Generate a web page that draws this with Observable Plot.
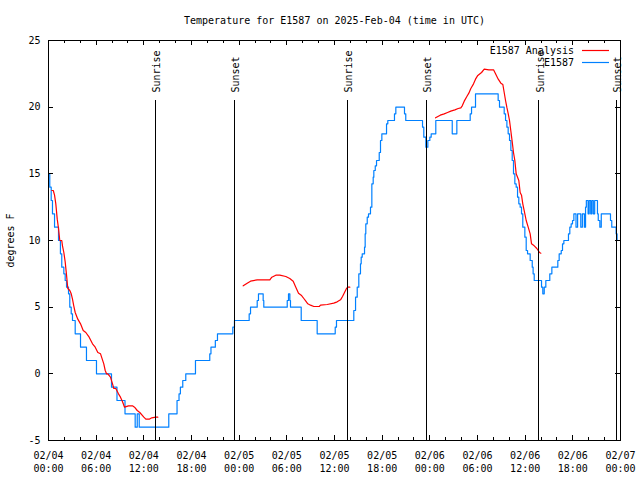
<!DOCTYPE html>
<html>
<head>
<meta charset="utf-8">
<script src="https://cdn.jsdelivr.net/npm/d3@7"></script>
<script src="https://cdn.jsdelivr.net/npm/@observablehq/plot@0.6"></script>
<style>
  body { margin: 0; background: white; }
</style>
</head>
<body>
<div id="chart"></div>
<script>
// ---- Data (hours since 2025-02-04 00:00 UTC, degrees F) ----
const obsHours = [0,0.16,0.34,0.5,0.76,1.26,1.5,1.67,1.93,2.1,2.27,2.52,2.68,2.86,3.02,3.36,4.03,4.78,6.04,7.93,8.62,9.63,10.91,11.17,11.42,15.14,16.18,16.43,16.6,16.9,17.28,18.5,20.3,20.45,21.0,21.27,23.2,23.41,25.26,25.43,26.27,26.43,27.02,27.1,30.05,30.21,30.38,30.46,31.81,33.82,36.09,36.25,38.43,38.65,38.86,39.06,39.27,39.36,39.49,39.78,39.86,39.94,40.12,40.28,40.53,40.7,40.87,40.95,41.13,41.29,41.63,41.79,41.96,42.55,42.71,43.55,43.72,44.81,44.97,47.08,47.24,47.5,47.75,48.0,48.17,48.75,50.82,51.4,53.08,53.25,53.75,56.6,56.77,57.36,57.53,57.7,57.86,58.03,58.2,58.37,58.53,58.7,58.87,59.04,59.2,59.37,59.54,59.7,59.96,60.13,60.3,60.63,60.89,61.0,61.14,62.06,62.22,62.4,62.6,63.1,63.36,64.11,64.28,64.54,64.7,64.87,65.45,65.62,65.79,65.96,66.13,66.4,66.6,67.0,67.2,67.45,67.6,67.7,67.92,68.06,68.25,68.4,68.58,68.75,69.1,69.2,69.4,69.58,70.74,70.9,71.45,71.57,72];
const obsTemps = [15,14,13,12,11,10,9,8,7.5,7,6.5,6,5,4.5,4,3,2,1,0,-1,-2,-3,-4,-3,-4,-3,-2,-1.5,-1,-0.5,0,1,1.5,2,2.5,3,3.5,4,4.5,5,5.5,6,5.5,5,5.5,6,5.5,5,4,3,3.5,4,4.75,5.75,6.5,7.5,8.25,8.75,9,9.5,10.5,11.25,11.75,12,12.5,14.25,14.75,15.25,15.6,16,16.6,17.5,18,18.75,19,19.5,20,19.5,19,18.5,17.75,17,17.5,17.75,18,19,18,19,19.5,20,21,20.5,20,19.5,19,18.5,18,17.5,16.75,16,15,14.25,14,13.25,12.75,12.5,12,11,10.25,9.25,9,8.5,8,7.5,7,6.5,6,6.5,7,7.5,8,8.5,9,9.25,9.75,10,10.5,11,11.25,11.5,12,11,12,11,12,11,12.5,13,12,13,12,13,12,13,12,11.5,11,12,11.5,11,10.5,10,10];

const anaHours = [0.42,0.6,0.76,0.92,1.1,1.26,1.42,1.67,1.76,1.93,2.1,2.27,2.43,2.68,2.86,3.02,3.18,3.36,3.69,4.03,4.37,4.7,5.12,5.54,5.88,6.21,6.55,6.96,7.14,7.3,7.47,7.8,8.06,8.22,8.47,8.81,9.06,9.32,9.57,10.07,10.57,10.83,11.17,11.49,12.0,12.25,12.68,13.0,13.5,13.76,
  null,
  24.51,25.01,25.43,26.27,27.86,28.11,28.61,29.12,29.87,30.37,30.8,31.13,31.47,31.81,32.14,32.39,32.64,32.98,33.4,34.08,34.24,35.08,35.91,36.34,36.76,37.01,37.26,37.51,37.68,37.93,
  null,
  48.72,49.31,49.81,50.23,50.64,51.15,51.57,51.9,52.08,52.33,52.66,52.91,53.16,53.5,53.75,54.0,54.51,54.85,55.43,56.02,56.27,56.61,56.94,57.19,57.36,57.53,57.69,57.87,58.03,58.19,58.37,58.53,58.7,58.87,59.2,59.37,59.54,59.7,59.96,60.13,60.38,60.63,60.8,61.14,61.47,61.81,61.97];
const anaTemps = [13.75,13.75,13.4,12.75,11.6,10.9,10,10,9.6,9.1,8.4,7.4,6.4,6.25,6,5.6,5.1,4.6,4.1,3.75,3.25,3.1,2.75,2.25,2,1.6,1.5,0.75,0.25,0,0,-0.25,-0.75,-1.1,-1.1,-1.5,-1.75,-2.1,-2.5,-2.4,-2.4,-2.5,-2.75,-2.9,-3.25,-3.4,-3.4,-3.3,-3.25,-3.25,
  null,
  6.6,6.8,6.95,7.05,7.05,7.25,7.4,7.4,7.3,7.15,6.95,6.5,6.05,5.9,5.65,5.45,5.25,5.15,5.05,5.05,5.15,5.2,5.3,5.4,5.55,5.8,6.1,6.4,6.5,6.5,
  null,
  19.2,19.4,19.5,19.6,19.7,19.8,19.9,19.95,20.1,20.45,20.8,21.05,21.4,21.75,22.1,22.35,22.6,22.85,22.8,22.8,22.5,22.1,21.8,21.7,21.1,20.5,20,19.5,19,18.25,17.4,16.6,16,15,14.5,13.6,13.4,12.75,12,11.5,11,10.5,9.75,9.6,9.4,9.1,9.05];

const sunHours = [13.5, 23.35, 37.6, 47.52, 61.72, 71.5];
const sunLabels = ["Sunrise", "Sunset", "Sunrise", "Sunset", "Sunrise", "Sunset"];

const yTicks = [-5, 0, 5, 10, 15, 20, 25];
const xMajorTicks = [0, 6, 12, 18, 24, 30, 36, 42, 48, 54, 60, 66, 72];
const xMinorTicks = [2, 4, 8, 10, 14, 16, 20, 22, 26, 28, 32, 34, 38, 40, 44, 46, 50, 52, 56, 58, 62, 64, 68, 70];
const dayLabels = ["02/04", "02/05", "02/06", "02/07"];

const titleText = "Temperature for E1587 on 2025-Feb-04 (time in UTC)";
const yLabelText = "degrees F";
const legendLabels = ["E1587 Analysis", "E1587"];

// ---- Build tables ----
const obs = obsHours.map((h, i) => ({h, t: obsTemps[i]}));
const ana = anaHours.map((h, i) => ({h, t: anaTemps[i]}));
const sun = sunHours.map((h, i) => ({h, label: sunLabels[i]}));

const RED = "#ff0000";
const BLUE = "#0080ff";
const W = 640, H = 480, mT = 40, mR = 20, mB = 40, mL = 48;
const fw = W - mL - mR, fh = H - mT - mB;
const font = "'DejaVu Sans Mono', 'Liberation Mono', monospace";

const fmt = h => `${dayLabels[Math.floor(h / 24)]}\n${String(h % 24).padStart(2, "0")}:00`;

const chart = Plot.plot({
  width: W, height: H,
  marginTop: mT, marginRight: mR, marginBottom: mB, marginLeft: mL,
  style: {fontFamily: font, fontSize: "10px", color: "black", background: "white", overflow: "visible"},
  x: {type: "linear", domain: [0, 72]},
  y: {domain: [-5, 25]},
  marks: [
    Plot.line(obs, {x: "h", y: "t", curve: "step-after", stroke: BLUE, strokeWidth: 1.2}),
    Plot.line(ana, {x: "h", y: "t", stroke: RED, strokeWidth: 1.2}),
    Plot.ruleX(sun, {x: "h", insetTop: 60, stroke: "black", strokeWidth: 1, shapeRendering: "crispEdges"}),
    Plot.text(sun, {x: "h", text: "label", frameAnchor: "top", dy: 52, dx: 1.5, rotate: -90, textAnchor: "start", lineAnchor: "middle", fill: "black"}),
    Plot.frame({stroke: "black", shapeRendering: "crispEdges"}),
    Plot.tickY(yTicks, {y: d => d, insetRight: fw - 5, stroke: "black", shapeRendering: "crispEdges"}),
    Plot.tickY(yTicks, {y: d => d, insetLeft: fw - 5, stroke: "black", shapeRendering: "crispEdges"}),
    Plot.tickX(xMajorTicks, {x: d => d, insetTop: fh - 5, stroke: "black", shapeRendering: "crispEdges"}),
    Plot.tickX(xMajorTicks, {x: d => d, insetBottom: fh - 5, stroke: "black", shapeRendering: "crispEdges"}),
    Plot.tickX(xMinorTicks, {x: d => d, insetTop: fh - 3, stroke: "black", shapeRendering: "crispEdges"}),
    Plot.tickX(xMinorTicks, {x: d => d, insetBottom: fh - 3, stroke: "black", shapeRendering: "crispEdges"}),
    Plot.axisY({ticks: yTicks, tickSize: 0, tickPadding: 8, label: null, tickFormat: d => String(d)}),
    Plot.axisX({ticks: xMajorTicks, tickSize: 0, tickPadding: 9, label: null, tickFormat: fmt, lineHeight: 1.3}),
    Plot.text([titleText], {frameAnchor: "top", dy: -20, lineAnchor: "middle", fill: "black"}),
    Plot.text([yLabelText], {frameAnchor: "left", dx: -38, rotate: -90, lineAnchor: "middle", textAnchor: "middle", fill: "black"})
  ]
});

// Legend (top-right inside the frame)
const svg = d3.select(chart);
const lg = svg.append("g").attr("font-family", font).attr("font-size", 10);
const right = W - mR;
[RED, BLUE].forEach((color, i) => {
  const y = mT + 10.5 + i * 12;
  lg.append("text").attr("x", right - 46).attr("y", y).attr("dy", "0.32em")
    .attr("text-anchor", "end").attr("fill", "black").text(legendLabels[i]);
  lg.append("line").attr("x1", right - 38).attr("x2", right - 11)
    .attr("y1", y).attr("y2", y).attr("stroke", color).attr("stroke-width", 1.2);
});

document.getElementById("chart").appendChild(chart);
</script>
</body>
</html>
